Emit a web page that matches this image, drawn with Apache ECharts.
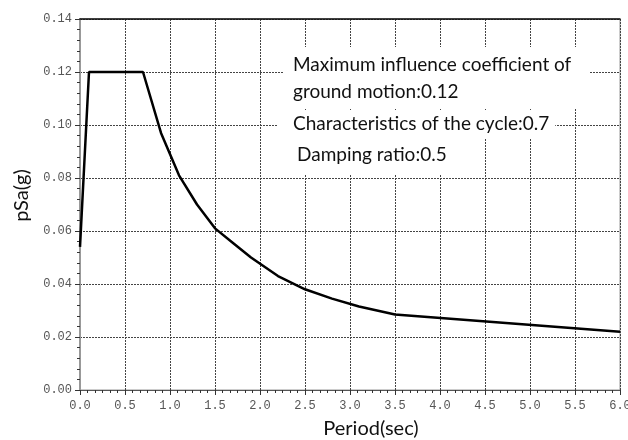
<!DOCTYPE html>
<html>
<head>
<meta charset="utf-8">
<title>pSa</title>
<script src="https://cdn.jsdelivr.net/npm/echarts@6/dist/echarts.min.js"></script>
<style>
  html, body { margin: 0; padding: 0; background: #fff; }
  #chart1 { width: 628px; height: 440px; }
</style>
</head>
<body>
<div id="chart1"></div>
<script type="text/javascript">
// 周期 (s) 与谱加速度 (g)，从图上读的
var period = [0, 0.1, 0.7, 0.9, 1.1, 1.3, 1.5, 1.7, 1.9, 2.2, 2.5, 2.8, 3.1, 3.5, 6.0];
var psa = [0.054, 0.12, 0.12, 0.097, 0.081, 0.070, 0.061, 0.0555, 0.050, 0.043, 0.038, 0.0345, 0.0315, 0.0285, 0.022];

var xMin = 0, xMax = 6, xStep = 0.5;
var yMin = 0, yMax = 0.14, yStep = 0.02;

var infoLines = [
    'Maximum influence coefficient of\nground motion:0.12',
    'Characteristics of the cycle:0.7',
    'Damping ratio:0.5'
];

var pts = period.map(function (t, i) { return [t, psa[i]]; });

var tickFont = { color: '#555', fontFamily: 'Liberation Mono', fontSize: 12 };
var textFont = 'Lato';

var myChart1 = echarts.init(document.getElementById('chart1'));
myChart1.setOption({
    animation: false,
    grid: {
        left: 80, right: 8, top: 19, bottom: 50,
        outerBoundsMode: 'none',
        show: true, borderColor: '#999', borderWidth: 1
    },
    xAxis: [{
        type: 'value',
        min: xMin, max: xMax, interval: xStep,
        name: 'Period(sec)',
        nameLocation: 'middle',
        nameGap: 29,
        nameTextStyle: { fontFamily: textFont, fontSize: 20, color: '#111', padding: [0, 0, 0, 42] },
        axisLine: { show: true, lineStyle: { color: '#555', width: 1 } },
        axisTick: { show: true, inside: false, length: 5, lineStyle: { color: '#333' } },
        minorTick: { show: true, splitNumber: 6, length: 3, lineStyle: { color: '#333' } },
        axisLabel: Object.assign({ margin: 10, formatter: function (v) { return v.toFixed(1); } }, tickFont),
        splitLine: { show: true, lineStyle: { color: '#444', type: [2, 1], width: 1 } }
    }, {
        type: 'value', position: 'top',
        min: xMin, max: xMax,
        axisLine: { show: true, lineStyle: { color: '#111', width: 1.5 } },
        axisTick: { show: false }, axisLabel: { show: false }, splitLine: { show: false }
    }],
    yAxis: {
        type: 'value',
        min: yMin, max: yMax, interval: yStep,
        name: 'pSa(g)',
        nameLocation: 'middle',
        nameRotate: 90,
        nameGap: 48,
        nameTextStyle: { fontFamily: textFont, fontSize: 20, color: '#111', padding: [0, 0, 0, 18] },
        axisLine: { show: true, lineStyle: { color: '#999', width: 2 } },
        axisTick: { show: true, length: 5, lineStyle: { color: '#333' } },
        minorTick: { show: true, splitNumber: 5, length: 3, lineStyle: { color: '#333' } },
        axisLabel: Object.assign({ margin: 8, formatter: function (v) { return v.toFixed(2); } }, tickFont),
        splitLine: { show: true, lineStyle: { color: '#444', type: [2, 1], width: 1 } }
    },
    series: [{
        name: 'pSa',
        type: 'line',
        data: pts,
        showSymbol: false,
        lineStyle: { color: '#000', width: 2.5 },
        z: 3
    }],
    graphic: [{
        type: 'text', left: 283, top: 47, z: 10,
        style: {
            text: infoLines[0], font: '19px ' + textFont, fill: '#111', lineHeight: 27,
            backgroundColor: '#fff', padding: [4, 18, 4, 10]
        }
    }, {
        type: 'text', left: 278, top: 110, z: 10,
        style: {
            text: infoLines[1], font: '19px ' + textFont, fill: '#111', lineHeight: 24,
            backgroundColor: '#fff', padding: [2, 6, 2, 15]
        }
    }, {
        type: 'text', left: 285, top: 138, z: 10,
        style: {
            text: infoLines[2], font: '19px ' + textFont, fill: '#111', lineHeight: 24,
            backgroundColor: '#fff', padding: [5, 24, 8, 12]
        }
    }]
});
</script>
</body>
</html>
